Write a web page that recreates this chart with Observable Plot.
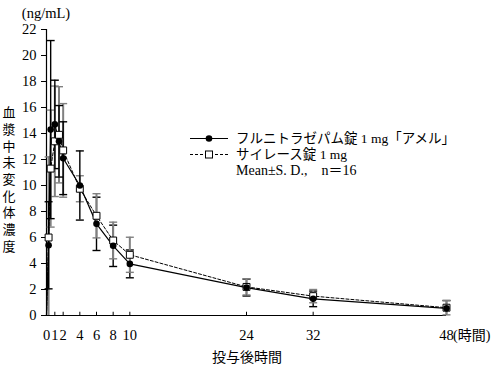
<!DOCTYPE html>
<html>
<head>
<meta charset="utf-8">
<script src="https://cdn.jsdelivr.net/npm/d3@7"></script>
<script src="https://cdn.jsdelivr.net/npm/@observablehq/plot@0.6"></script>
<style>
  html, body { margin: 0; padding: 0; background: #fff; }
  #chart { width: 496px; height: 369px; }
  #chart svg text { font-family: "Liberation Serif", "Noto Sans CJK JP", serif; }
</style>
</head>
<body>
<div id="chart"></div>
<script>
// ---- data ----
const times      = [0, 0.25, 0.5, 1, 1.5, 2, 4, 6, 8, 10, 24, 32, 48];
const amelMean   = [0, 5.4, 14.3, 14.7, 13.4, 12.1, 10.0, 7.05, 5.36, 3.97, 2.15, 1.28, 0.55];
const amelSD     = [0, 3.35, 6.85, 3.4, 2.75, 2.8, 2.66, 2.05, 1.59, 1.07, 0.65, 0.6, 0.6];
const sileceMean = [0, 6.0, 11.3, 13.4, 13.9, 12.7, 9.75, 7.67, 5.77, 4.67, 2.2, 1.49, 0.6];
const sileceSD   = [0, 6.2, 4.5, 4.25, 3.7, 3.6, 1.0, 1.7, 1.41, 1.35, 0.62, 0.51, 0.55];
const xTicks     = [0, 1, 2, 4, 6, 8, 10, 24, 32, 48];
const yTicks     = [0, 2, 4, 6, 8, 10, 12, 14, 16, 18, 20, 22];
const seriesNames = ["フルニトラゼパム錠 1 mg「アメル」", "サイレース錠 1 mg"];
const statNote = "Mean±S. D.,　n＝16";
const yLabel = "血漿中未変化体濃度";
const xLabel = "投与後時間";
const unitLabel = "(ng/mL)";
const hourUnit = "(時間)";

const amel = times.map((t, i) => ({t, m: amelMean[i], lo: amelMean[i] - amelSD[i], hi: amelMean[i] + amelSD[i]}));
const silece = times.map((t, i) => ({t, m: sileceMean[i], lo: sileceMean[i] - sileceSD[i], hi: sileceMean[i] + sileceSD[i]}));
const amelPts = amel.filter(d => d.t > 0);
const silecePts = silece.filter(d => d.t > 0);
const sileceEarly = silecePts.filter(d => d.t < 6);
const sileceLate = silecePts.filter(d => d.t >= 6);

const cap = {draw(ctx, size) { const w = Math.sqrt(size / Math.PI); ctx.moveTo(-w, 0); ctx.lineTo(w, 0); }};
const FONT = '"Liberation Serif", "Noto Sans CJK JP", serif';
const GRAY = "#808080";

function bars(data, color, width) {
  return [
    Plot.ruleX(data, {x: "t", y1: d => Math.max(0, d.lo), y2: "hi", stroke: color, strokeWidth: width}),
    Plot.dot(data, {x: "t", y: "hi", symbol: cap, r: 4, stroke: color, strokeWidth: 1.4, fill: "none"}),
    Plot.dot(data.filter(d => d.lo >= 0), {x: "t", y: "lo", symbol: cap, r: 4, stroke: color, strokeWidth: 1.4, fill: "none"})
  ];
}

const chart = Plot.plot({
  width: 496,
  height: 369,
  marginLeft: 46,
  marginRight: 50,
  marginTop: 29,
  marginBottom: 54,
  style: {fontSize: "14px", color: "#000", background: "#fff"},
  x: {domain: [0, 48], ticks: xTicks},
  y: {domain: [0, 22], ticks: yTicks},
  marks: [
    Plot.axisY({ticks: yTicks, tickSize: 5, tickPadding: 5, label: null, fontSize: 14.5, fontFamily: FONT}),
    Plot.axisX({ticks: xTicks, tickSize: 0, tickPadding: 14, label: null, fontSize: 14.5, fontFamily: FONT}),
    Plot.ruleX(xTicks, {x: d => d, y1: 0, y2: 0.25, stroke: "#000", strokeWidth: 1}),
    Plot.ruleX([0], {stroke: "#000", strokeWidth: 1.2}),
    Plot.ruleY([0], {stroke: "#000", strokeWidth: 1.2}),
    // error bars (reference product gray, test product black)
    ...bars(sileceEarly, GRAY, 2),
    ...bars(amelPts, "#000", 1.4),
    ...bars(sileceLate, GRAY, 2),
    // lines
    Plot.line(silece, {x: "t", y: "m", stroke: "#000", strokeWidth: 1, strokeDasharray: "3,2"}),
    Plot.line(amel, {x: "t", y: "m", stroke: "#000", strokeWidth: 1.2}),
    // markers
    Plot.dot(silecePts, {x: "t", y: "m", symbol: "square", r: 3.9, fill: "#fff", stroke: "#000", strokeWidth: 1}),
    Plot.dot(amelPts, {x: "t", y: "m", symbol: "circle", r: 3.3, fill: "#000", stroke: "none"})
  ]
});

document.getElementById("chart").appendChild(chart);

// annotations and legend
const svg = d3.select(chart);
const ann = svg.append("g").attr("font-family", FONT).attr("fill", "#000").attr("text-anchor", "start");
ann.append("text").attr("x", 46).attr("y", 18).attr("text-anchor", "middle").attr("font-size", 14.5).text(unitLabel);
ann.append("text").attr("x", 453).attr("y", 340).attr("text-anchor", "start").attr("font-size", 14).text(hourUnit);
ann.append("text").attr("x", 247).attr("y", 362).attr("text-anchor", "middle").attr("font-size", 14).text(xLabel);
ann.append("text").attr("x", 8).attr("y", 181).attr("text-anchor", "middle")
  .attr("font-size", 13).style("writing-mode", "vertical-rl").style("letter-spacing", "3.7px").text(yLabel);

const leg = svg.append("g").attr("font-family", FONT).attr("text-anchor", "start");
const rows = [138.5, 154.5, 170.5];
// row 1
leg.append("line").attr("x1", 190).attr("x2", 228).attr("y1", rows[0]).attr("y2", rows[0]).attr("stroke", "#000").attr("stroke-width", 1.2);
leg.append("circle").attr("cx", 209).attr("cy", rows[0]).attr("r", 3.3).attr("fill", "#000");
leg.append("text").attr("x", 236).attr("y", rows[0] + 4.8).attr("font-size", 13.5).attr("text-anchor", "start").text(seriesNames[0]);
// row 2
leg.append("line").attr("x1", 190).attr("x2", 228).attr("y1", rows[1]).attr("y2", rows[1]).attr("stroke", "#000").attr("stroke-width", 1).attr("stroke-dasharray", "3,2");
leg.append("rect").attr("x", 205.5).attr("y", rows[1] - 3.5).attr("width", 7).attr("height", 7).attr("fill", "#fff").attr("stroke", "#000");
leg.append("text").attr("x", 236).attr("y", rows[1] + 4.8).attr("font-size", 13.5).attr("text-anchor", "start").text(seriesNames[1]);
// row 3
leg.append("text").attr("x", 236).attr("y", rows[2] + 4.8).attr("font-size", 14).attr("text-anchor", "start").text(statNote);
</script>
</body>
</html>
